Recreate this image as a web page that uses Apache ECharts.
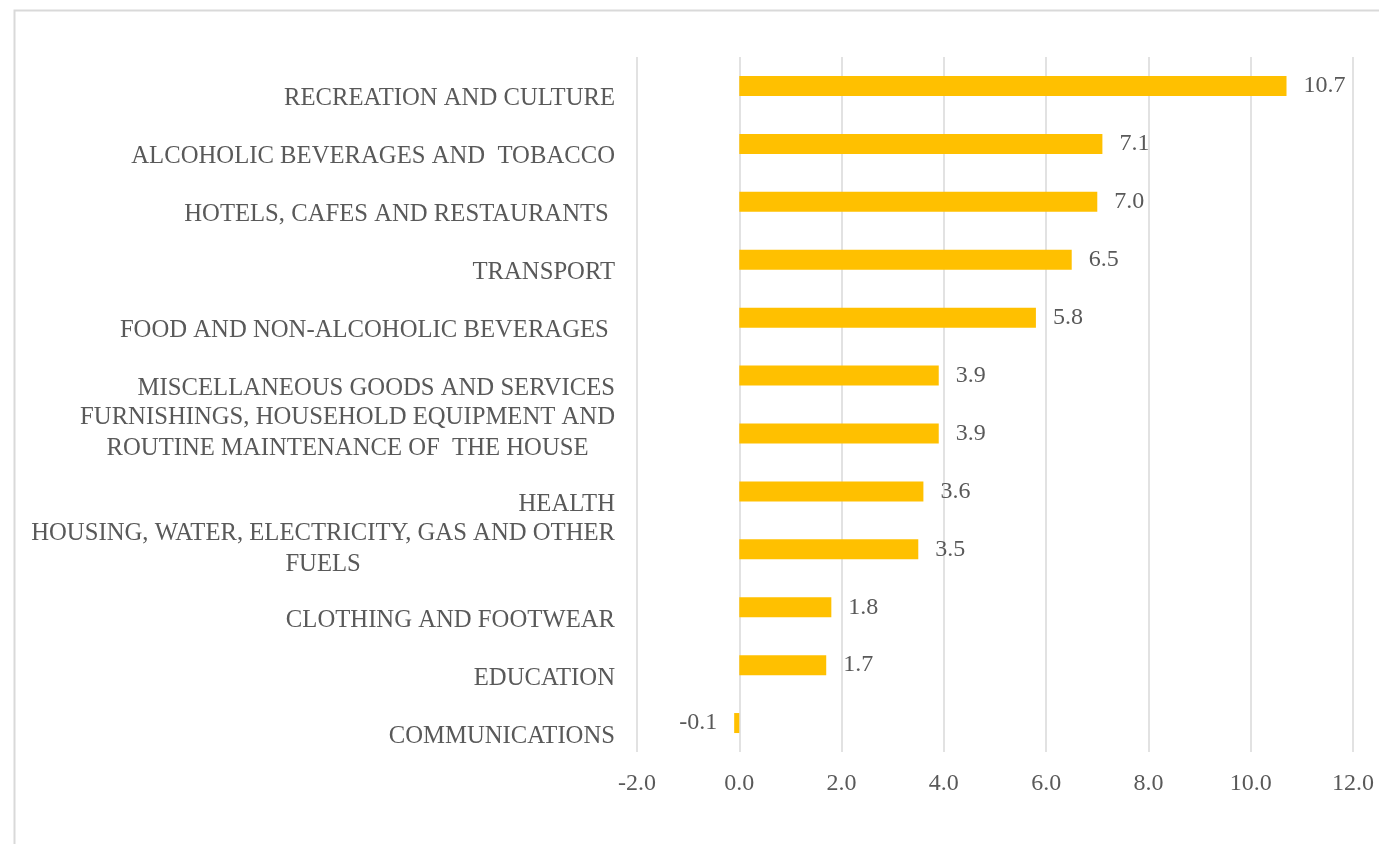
<!DOCTYPE html>
<html>
<head>
<meta charset="utf-8">
<script src="https://cdn.jsdelivr.net/npm/echarts@6/dist/echarts.min.js"></script>
<style>
  html, body { margin: 0; padding: 0; background: #fff; }
  #chart { width: 1379px; height: 844px; }
</style>
</head>
<body>
<div id="chart"></div>
<script>
// Annual change by consumption group, top to bottom
const categories = [
  'RECREATION AND CULTURE',
  'ALCOHOLIC BEVERAGES AND  TOBACCO',
  'HOTELS, CAFES AND RESTAURANTS ',
  'TRANSPORT',
  'FOOD AND NON-ALCOHOLIC BEVERAGES ',
  'MISCELLANEOUS GOODS AND SERVICES',
  'FURNISHINGS, HOUSEHOLD EQUIPMENT AND\nROUTINE MAINTENANCE OF  THE HOUSE',
  'HEALTH',
  'HOUSING, WATER, ELECTRICITY, GAS AND OTHER\nFUELS',
  'CLOTHING AND FOOTWEAR',
  'EDUCATION',
  'COMMUNICATIONS'
];
const values = [10.7, 7.1, 7.0, 6.5, 5.8, 3.9, 3.9, 3.6, 3.5, 1.8, 1.7, -0.1];
const xTicks = { min: -2, max: 12, interval: 2 };

const textColor = '#595959';
const serif = '"Liberation Serif", "Times New Roman", serif';

const chart = echarts.init(document.getElementById('chart'), null, { renderer: 'canvas' });

chart.setOption({
  backgroundColor: '#ffffff',
  animation: false,
  graphic: [{
    type: 'rect',
    left: 12, top: 8,
    shape: { width: 1400, height: 900 },
    style: { fill: 'none', stroke: '#d9d9d9', lineWidth: 2 },
    silent: true
  }],
  grid: { left: 637, right: 26, top: 57, bottom: 92, containLabel: false },
  xAxis: {
    type: 'value',
    min: xTicks.min,
    max: xTicks.max,
    interval: xTicks.interval,
    axisLine: { show: false },
    axisTick: { show: false },
    splitLine: { show: true, lineStyle: { color: '#d9d9d9', width: 1.5 } },
    axisLabel: {
      color: textColor,
      fontFamily: serif,
      fontSize: 24,
      margin: 20,
      formatter: v => v.toFixed(1)
    }
  },
  yAxis: {
    type: 'category',
    inverse: true,
    data: categories,
    axisLine: { show: false },
    axisTick: { show: false },
    axisLabel: {
      margin: 22,
      color: textColor,
      fontFamily: serif,
      fontSize: 24.7,
      formatter: function (v) {
        const lines = v.split('\n');
        if (lines.length === 1) return '{s|' + v + '}';
        return lines.map(l => '{m|' + l + '}').join('\n');
      },
      rich: {
        s: { color: textColor, fontFamily: serif, fontSize: 24.7, lineHeight: 31, padding: [26, 0, 0, 0] },
        m: { color: textColor, fontFamily: serif, fontSize: 24.7, lineHeight: 31, align: 'center' }
      }
    }
  },
  series: [{
    type: 'bar',
    data: values.map(v => ({
      value: v,
      label: { position: v < 0 ? 'left' : 'right' }
    })),
    barWidth: 20,
    itemStyle: { color: '#FFC000' },
    label: {
      show: true,
      distance: 17,
      color: textColor,
      fontFamily: serif,
      fontSize: 24,
      formatter: p => p.value.toFixed(1)
    }
  }]
});
</script>
</body>
</html>
